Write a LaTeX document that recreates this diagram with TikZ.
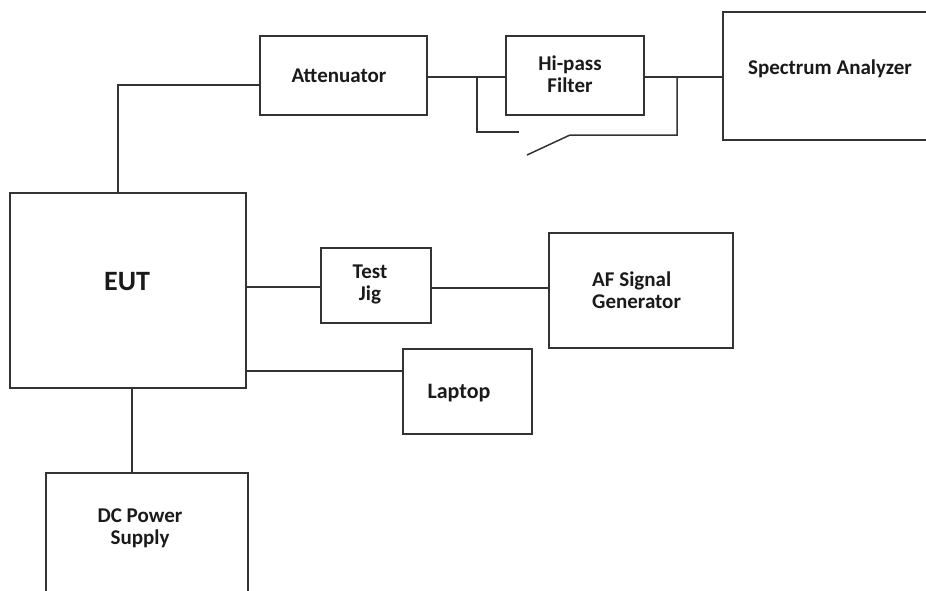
\documentclass[tikz,border=0pt]{standalone}
\usepackage{fontspec}
\setmainfont{Carlito}
\definecolor{linec}{HTML}{333333}
\definecolor{txtc}{HTML}{1A1A1A}
\begin{document}
\begin{tikzpicture}[x=1pt,y=-1pt,
  box/.style={draw=linec,line width=1.5pt,rectangle,inner sep=0pt,outer sep=0pt},
  lbl/.style={font=\bfseries\fontsize{21}{22}\selectfont,text=txtc,align=center,inner sep=0pt},
  wire/.style={draw=linec,line width=1.5pt}]
\useasboundingbox (0,0) rectangle (926,590);
% boxes
\node[box,minimum width=167pt,minimum height=79pt] (att) at (343.5,75.5) {};
\node[box,minimum width=138pt,minimum height=79pt] (hpf) at (575,75.5) {};
\node[box,minimum width=250pt,minimum height=128pt] (sa) at (848,76) {};
\node[box,minimum width=236pt,minimum height=195pt] (eut) at (128,290.5) {};
\node[box,minimum width=110pt,minimum height=75pt] (jig) at (376,285.5) {};
\node[box,minimum width=184pt,minimum height=115pt] (af) at (641,290.5) {};
\node[box,minimum width=129pt,minimum height=85pt] (lap) at (467.5,391.5) {};
\node[box,minimum width=202pt,minimum height=140pt] (dc) at (147,543) {};
% texts
\node[lbl] (atttxt) at (339,76) {Attenuator};
\node[lbl] (hpftxt) at (570,74) {Hi-pass\\Filter};
\node[lbl] (satxt) at (830,69) {Spectrum Analyzer};
\node[lbl,font=\bfseries\fontsize{28}{30}\selectfont] (euttxt) at (127,282) {EUT};
\node[lbl] (jigtxt) at (370,284) {Test\\Jig};
\node[lbl,align=left,anchor=west] (aftxt) at (592,290) {AF Signal\\Generator};
\node[lbl,font=\bfseries\fontsize{22}{24}\selectfont] (laptxt) at (459,393) {Laptop};
\node[lbl] (dctxt) at (140,528) {DC Power\\Supply};
% connectors
\draw[wire] ([xshift=-10pt]eut.north) |- ([yshift=-9.5pt]att.west);
\draw[wire] ([yshift=-1.5pt]att.east) -- ([yshift=-1.5pt]att.east -| hpf.west);
\draw[wire] ([yshift=-1.5pt]hpf.east) -- ([yshift=-1.5pt]hpf.east -| sa.west);
\coordinate (b1) at (477,77);
\coordinate (b2) at (519,132);
\coordinate (sw1) at (527,155);
\coordinate (sw2) at (570,135);
\coordinate (b3) at (677,77);
\draw[wire] (b1) |- (b2);
\draw[wire] (sw1) -- (sw2) -| (b3);
\draw[wire] ([yshift=3.5pt]eut.east) -- ([yshift=3.5pt]eut.east -| jig.west);
\draw[wire] ([yshift=-2.5pt]jig.east) -- ([yshift=-2.5pt]jig.east -| af.west);
\draw[wire] ([yshift=-80.5pt]eut.east) -- ([yshift=-80.5pt]eut.east -| lap.west);
\draw[wire] ([xshift=4pt]eut.south) -- ([xshift=4pt]eut.south |- dc.north);
\end{tikzpicture}
\end{document}
